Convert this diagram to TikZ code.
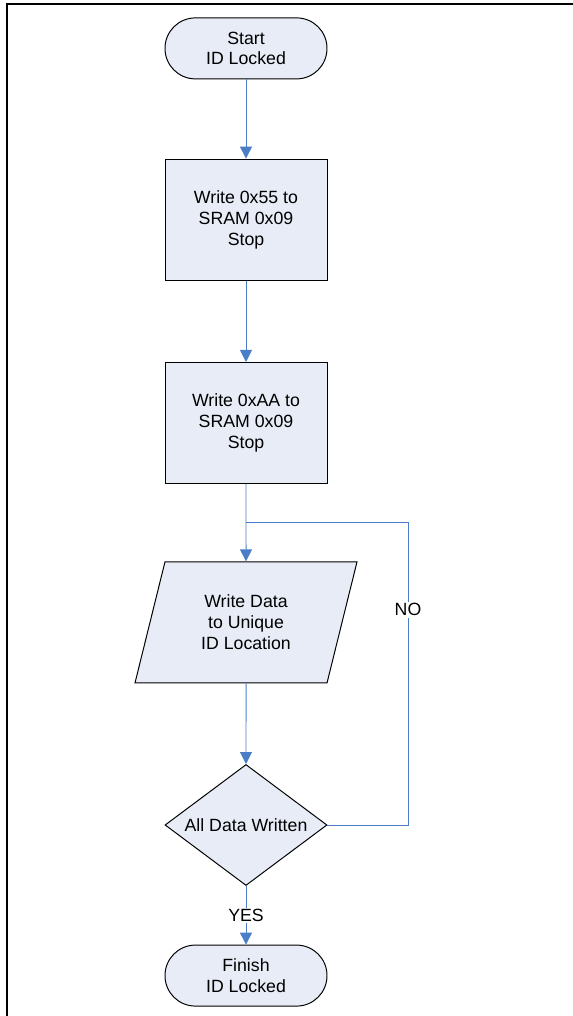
\documentclass[tikz,border=0pt]{standalone}
\usepackage{fontspec}
\setmainfont{Liberation Sans}
\usetikzlibrary{shapes.geometric}
\usetikzlibrary{arrows.meta}
\definecolor{flowblue}{RGB}{74,126,198}
\definecolor{boxfill}{RGB}{231,236,247}
\tikzset{
  base/.style={draw=black,fill=boxfill,line width=0.7pt,align=center,font=\fontsize{12.6pt}{14.9pt}\selectfont},
  terminal/.style={base,rectangle,rounded corners=0.76cm,minimum width=4.05cm,minimum height=1.525cm},
  process/.style={base,rectangle,minimum width=4.05cm,minimum height=3.025cm},
  inout/.style={base,trapezium,trapezium left angle=65,trapezium right angle=115,trapezium stretches body,minimum width=5.55cm,minimum height=3.025cm},
  decision/.style={base,diamond,aspect=1.34,inner sep=0pt,minimum width=4.05cm,minimum height=3.025cm},
  link/.style={draw=flowblue,line width=0.7pt},
  flow/.style={link,-{Triangle[length=3mm,width=3mm]}},
  lbl/.style={fill=white,inner sep=1pt,font=\fontsize{12.6pt}{14.9pt}\selectfont}
}
\begin{document}
\begin{tikzpicture}
\useasboundingbox (0,0) rectangle (14.325,25.4);
\draw[line width=1.4pt] (0.175,0) -- (0.175,25.3) -- (14.325,25.3);

\node[terminal] (start) at (6.15,24.19) {Start\\ID Locked};
\node[process] (write55) at (6.15,19.91) {Write 0x55 to\\SRAM 0x09\\Stop};
\node[process] (writeAA) at (6.15,14.825) {Write 0xAA to\\SRAM 0x09\\Stop};
\node[inout] (data) at (6.15,9.84) {Write Data\\to Unique\\ID Location};
\node[decision] (check) at (6.15,4.775) {All Data Written};
\node[terminal] (finish) at (6.15,1.01) {Finish\\ID Locked};
\coordinate (join) at (6.15,12.35);
\coordinate (loop) at (10.2,12.35);

\draw[flow] (start) -- (write55);
\draw[flow] (write55) -- (writeAA);
\draw[flow] (writeAA) -- (data);
\draw[flow] (data) -- (check);
\draw[flow] (check) -- node[lbl] (yes) {YES} (finish);
\draw[link] (check.east) -| node[lbl,pos=0.855] (no) {NO} (loop) -- (join);
\end{tikzpicture}
\end{document}
